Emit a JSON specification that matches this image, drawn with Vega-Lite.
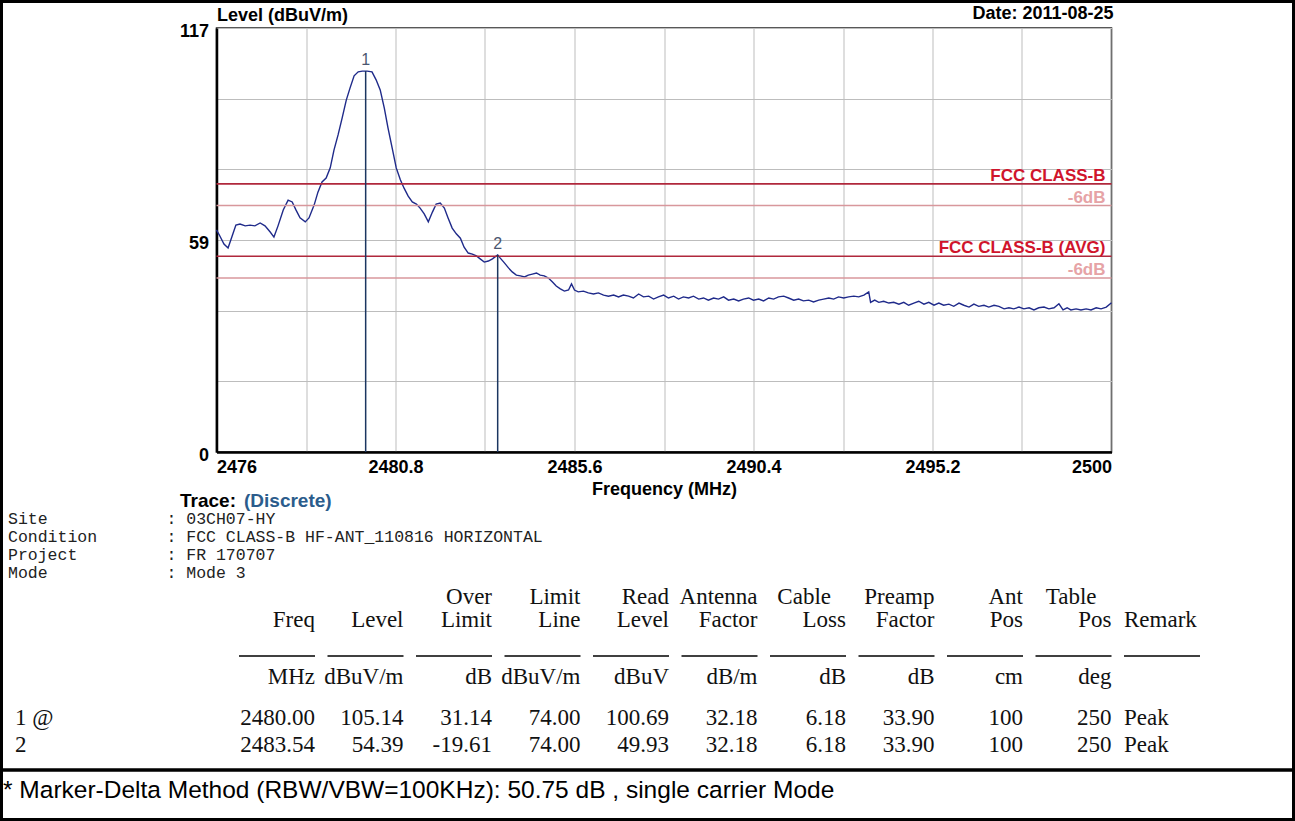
{
  "$schema": "https://vega.github.io/schema/vega-lite/v6.json",
  "width": 895,
  "height": 424,
  "autosize": "none",
  "padding": {"left": 216.5, "top": 28, "right": 183.5, "bottom": 369},
  "background": "white",
  "config": {"view": {"stroke": "#222", "strokeWidth": 1.5}},
  "datasets": {
    "cells": [
      {"col": "OverLimit", "line": "head1", "text": "Over"},
      {"col": "LimitLine", "line": "head1", "text": "Limit"},
      {"col": "ReadLevel", "line": "head1", "text": "Read"},
      {"col": "AntennaFactor", "line": "head1", "text": "Antenna"},
      {"col": "CableLoss", "line": "head1", "text": "Cable"},
      {"col": "PreampFactor", "line": "head1", "text": "Preamp"},
      {"col": "AntPos", "line": "head1", "text": "Ant"},
      {"col": "TablePos", "line": "head1", "text": "Table"},
      {"col": "Freq", "line": "head2", "text": "Freq"},
      {"col": "Level", "line": "head2", "text": "Level"},
      {"col": "OverLimit", "line": "head2", "text": "Limit"},
      {"col": "LimitLine", "line": "head2", "text": "Line"},
      {"col": "ReadLevel", "line": "head2", "text": "Level"},
      {"col": "AntennaFactor", "line": "head2", "text": "Factor"},
      {"col": "CableLoss", "line": "head2", "text": "Loss"},
      {"col": "PreampFactor", "line": "head2", "text": "Factor"},
      {"col": "AntPos", "line": "head2", "text": "Pos"},
      {"col": "TablePos", "line": "head2", "text": "Pos"},
      {"col": "Remark", "line": "head2", "text": "Remark"},
      {"col": "Freq", "line": "units", "text": "MHz"},
      {"col": "Level", "line": "units", "text": "dBuV/m"},
      {"col": "OverLimit", "line": "units", "text": "dB"},
      {"col": "LimitLine", "line": "units", "text": "dBuV/m"},
      {"col": "ReadLevel", "line": "units", "text": "dBuV"},
      {"col": "AntennaFactor", "line": "units", "text": "dB/m"},
      {"col": "CableLoss", "line": "units", "text": "dB"},
      {"col": "PreampFactor", "line": "units", "text": "dB"},
      {"col": "AntPos", "line": "units", "text": "cm"},
      {"col": "TablePos", "line": "units", "text": "deg"},
      {"col": "Freq", "line": "row1", "text": "2480.00"},
      {"col": "Level", "line": "row1", "text": "105.14"},
      {"col": "OverLimit", "line": "row1", "text": "31.14"},
      {"col": "LimitLine", "line": "row1", "text": "74.00"},
      {"col": "ReadLevel", "line": "row1", "text": "100.69"},
      {"col": "AntennaFactor", "line": "row1", "text": "32.18"},
      {"col": "CableLoss", "line": "row1", "text": "6.18"},
      {"col": "PreampFactor", "line": "row1", "text": "33.90"},
      {"col": "AntPos", "line": "row1", "text": "100"},
      {"col": "TablePos", "line": "row1", "text": "250"},
      {"col": "Remark", "line": "row1", "text": "Peak"},
      {"col": "Freq", "line": "row2", "text": "2483.54"},
      {"col": "Level", "line": "row2", "text": "54.39"},
      {"col": "OverLimit", "line": "row2", "text": "-19.61"},
      {"col": "LimitLine", "line": "row2", "text": "74.00"},
      {"col": "ReadLevel", "line": "row2", "text": "49.93"},
      {"col": "AntennaFactor", "line": "row2", "text": "32.18"},
      {"col": "CableLoss", "line": "row2", "text": "6.18"},
      {"col": "PreampFactor", "line": "row2", "text": "33.90"},
      {"col": "AntPos", "line": "row2", "text": "100"},
      {"col": "TablePos", "line": "row2", "text": "250"},
      {"col": "Remark", "line": "row2", "text": "Peak"}
    ]
  },
  "layer": [
    {
      "layer": [
        {
          "data": {"values": [
            {"freq":2476.00,"level":61.3},{"freq":2476.09,"level":59.6},{"freq":2476.20,"level":57.4},{"freq":2476.31,"level":56.3},{"freq":2476.42,"level":59.6},{"freq":2476.52,"level":62.6},{"freq":2476.63,"level":62.9},{"freq":2476.77,"level":62.4},{"freq":2476.90,"level":62.6},{"freq":2477.03,"level":62.4},{"freq":2477.17,"level":63.2},{"freq":2477.30,"level":62.4},{"freq":2477.44,"level":60.7},{"freq":2477.54,"level":59.3},{"freq":2477.65,"level":62.4},{"freq":2477.79,"level":66.8},{"freq":2477.92,"level":69.5},{"freq":2478.03,"level":69.0},{"freq":2478.13,"level":66.8},{"freq":2478.24,"level":64.6},{"freq":2478.38,"level":63.5},{"freq":2478.48,"level":64.6},{"freq":2478.62,"level":68.2},{"freq":2478.72,"level":71.7},{"freq":2478.83,"level":74.5},{"freq":2478.94,"level":75.6},{"freq":2479.05,"level":78.4},{"freq":2479.15,"level":83.3},{"freq":2479.26,"level":87.5},{"freq":2479.37,"level":92.2},{"freq":2479.48,"level":97.1},{"freq":2479.58,"level":100.4},{"freq":2479.69,"level":103.8},{"freq":2479.80,"level":104.9},{"freq":2479.91,"level":105.1},{"freq":2480.04,"level":105.1},{"freq":2480.17,"level":104.9},{"freq":2480.28,"level":102.7},{"freq":2480.39,"level":99.9},{"freq":2480.50,"level":94.9},{"freq":2480.60,"level":89.4},{"freq":2480.71,"level":83.9},{"freq":2480.82,"level":78.4},{"freq":2480.93,"level":75.1},{"freq":2481.03,"level":72.8},{"freq":2481.14,"level":70.6},{"freq":2481.25,"level":69.0},{"freq":2481.36,"level":68.4},{"freq":2481.46,"level":67.3},{"freq":2481.57,"level":65.7},{"freq":2481.68,"level":63.5},{"freq":2481.79,"level":66.2},{"freq":2481.89,"level":68.4},{"freq":2482.00,"level":68.7},{"freq":2482.11,"level":67.3},{"freq":2482.21,"level":64.6},{"freq":2482.32,"level":61.8},{"freq":2482.43,"level":60.2},{"freq":2482.54,"level":59.0},{"freq":2482.64,"level":56.5},{"freq":2482.75,"level":54.9},{"freq":2482.86,"level":54.6},{"freq":2482.97,"level":54.1},{"freq":2483.07,"level":53.3},{"freq":2483.18,"level":52.4},{"freq":2483.29,"level":52.7},{"freq":2483.40,"level":53.3},{"freq":2483.54,"level":54.4},{"freq":2483.61,"level":53.5},{"freq":2483.72,"level":52.2},{"freq":2483.83,"level":50.8},{"freq":2483.93,"level":49.7},{"freq":2484.04,"level":48.8},{"freq":2484.15,"level":48.6},{"freq":2484.26,"level":48.3},{"freq":2484.36,"level":48.8},{"freq":2484.47,"level":49.1},{"freq":2484.58,"level":49.4},{"freq":2484.68,"level":48.8},{"freq":2484.79,"level":48.6},{"freq":2484.90,"level":48.0},{"freq":2485.01,"level":46.9},{"freq":2485.11,"level":45.8},{"freq":2485.22,"level":45.0},{"freq":2485.33,"level":44.4},{"freq":2485.44,"level":44.7},{"freq":2485.52,"level":46.4},{"freq":2485.60,"level":44.7},{"freq":2485.70,"level":44.2},{"freq":2485.84,"level":44.4},{"freq":2485.97,"level":43.9},
            {"freq":2486.11,"level":43.6},{"freq":2486.24,"level":43.9},{"freq":2486.38,"level":43.3},{"freq":2486.51,"level":43.0},{"freq":2486.65,"level":43.3},{"freq":2486.78,"level":42.8},{"freq":2486.91,"level":43.3},{"freq":2487.05,"level":43.0},{"freq":2487.18,"level":42.5},{"freq":2487.32,"level":43.6},{"freq":2487.45,"level":42.8},{"freq":2487.59,"level":43.0},{"freq":2487.72,"level":42.2},{"freq":2487.85,"level":42.8},{"freq":2487.99,"level":43.3},{"freq":2488.12,"level":42.5},{"freq":2488.26,"level":43.0},{"freq":2488.39,"level":42.2},{"freq":2488.52,"level":42.8},{"freq":2488.66,"level":42.5},{"freq":2488.79,"level":43.0},{"freq":2488.93,"level":42.2},{"freq":2489.06,"level":42.5},{"freq":2489.19,"level":41.9},{"freq":2489.33,"level":42.5},{"freq":2489.46,"level":42.2},{"freq":2489.60,"level":42.8},{"freq":2489.73,"level":41.9},{"freq":2489.87,"level":42.2},{"freq":2490.00,"level":41.7},{"freq":2490.13,"level":42.2},{"freq":2490.27,"level":42.5},{"freq":2490.40,"level":41.9},{"freq":2490.54,"level":42.2},{"freq":2490.67,"level":41.7},{"freq":2490.81,"level":42.5},{"freq":2490.94,"level":42.2},{"freq":2491.07,"level":42.8},{"freq":2491.21,"level":43.0},{"freq":2491.34,"level":42.5},{"freq":2491.48,"level":41.9},{"freq":2491.61,"level":42.2},{"freq":2491.74,"level":41.7},{"freq":2491.88,"level":41.9},{"freq":2492.01,"level":41.4},{"freq":2492.15,"level":41.9},{"freq":2492.28,"level":42.2},{"freq":2492.42,"level":42.5},{"freq":2492.55,"level":42.2},{"freq":2492.68,"level":42.8},{"freq":2492.82,"level":42.5},{"freq":2492.95,"level":42.8},{"freq":2493.09,"level":43.0},{"freq":2493.22,"level":42.8},{"freq":2493.36,"level":43.3},{"freq":2493.49,"level":44.2},
            {"freq":2493.54,"level":41.3},{"freq":2493.65,"level":41.9},{"freq":2493.76,"level":41.3},{"freq":2493.89,"level":41.6},{"freq":2494.03,"level":41.1},{"freq":2494.16,"level":41.3},{"freq":2494.30,"level":40.8},{"freq":2494.43,"level":41.3},{"freq":2494.56,"level":40.5},{"freq":2494.70,"level":41.1},{"freq":2494.83,"level":41.6},{"freq":2494.97,"level":40.8},{"freq":2495.10,"level":41.3},{"freq":2495.24,"level":40.5},{"freq":2495.37,"level":41.1},{"freq":2495.50,"level":40.5},{"freq":2495.64,"level":40.8},{"freq":2495.77,"level":40.2},{"freq":2495.91,"level":41.1},{"freq":2496.04,"level":40.5},{"freq":2496.18,"level":40.0},{"freq":2496.31,"level":40.8},{"freq":2496.44,"level":40.2},{"freq":2496.58,"level":40.5},{"freq":2496.71,"level":40.0},{"freq":2496.85,"level":40.5},{"freq":2496.98,"level":40.2},{"freq":2497.12,"level":39.5},{"freq":2497.25,"level":39.8},{"freq":2497.38,"level":39.5},{"freq":2497.52,"level":40.0},{"freq":2497.65,"level":39.5},{"freq":2497.79,"level":39.8},{"freq":2497.92,"level":39.2},{"freq":2498.05,"level":39.8},{"freq":2498.19,"level":40.0},{"freq":2498.32,"level":39.5},{"freq":2498.46,"level":39.8},{"freq":2498.59,"level":40.9},{"freq":2498.70,"level":39.2},{"freq":2498.81,"level":39.8},{"freq":2498.91,"level":39.2},{"freq":2499.05,"level":39.5},{"freq":2499.18,"level":39.2},{"freq":2499.32,"level":39.5},{"freq":2499.45,"level":39.2},{"freq":2499.59,"level":39.8},{"freq":2499.72,"level":39.5},{"freq":2499.86,"level":40.0},{"freq":2500.00,"level":41.2}
          ]},
          "mark": {"type": "line", "color": "#1f2a8a", "strokeWidth": 1.4},
          "encoding": {
            "x": {"field": "freq", "type": "quantitative",
              "scale": {"domain": [2476, 2500], "nice": false, "zero": false},
              "axis": {
                "title": "Frequency (MHz)",
                "values": [2476, 2478.4, 2480.8, 2483.2, 2485.6, 2488, 2490.4, 2492.8, 2495.2, 2497.6, 2500],
                "labelExpr": "round((datum.value - 2476) / 2.4) % 2 == 0 ? format(datum.value, '~f') : ''",
                "grid": true, "gridColor": "#bdbdbd", "gridWidth": 1,
                "ticks": false, "domainColor": "#000", "domainWidth": 2.5,
                "labelFont": "Liberation Sans", "labelFontSize": 18, "labelFontWeight": "bold", "labelColor": "#000",
                "labelPadding": 6, "labelFlush": true, "labelOverlap": false, "labelBound": false,
                "titleFont": "Liberation Sans", "titleFontSize": 18, "titleFontWeight": "bold", "titleColor": "#000", "titlePadding": 4
              }
            },
            "y": {"field": "level", "type": "quantitative",
              "scale": {"domain": [0, 117], "nice": false},
              "axis": {
                "title": "Level (dBuV/m)", "titleAngle": 0, "titleAlign": "left", "titleBaseline": "alphabetic", "titleX": 0, "titleY": -8,
                "titleFont": "Liberation Sans", "titleFontSize": 18, "titleFontWeight": "bold", "titleColor": "#000",
                "values": [0, 9.75, 19.5, 29.25, 39, 48.75, 58.5, 68.25, 78, 87.75, 97.5, 107.25, 117],
                "labelExpr": "datum.value == 0 || datum.value == 58.5 || datum.value == 117 ? format(round(datum.value), 'd') : ''",
                "grid": true, "gridColor": "#bdbdbd", "gridWidth": 1,
                "ticks": false, "domainColor": "#000", "domainWidth": 2.5,
                "labelFont": "Liberation Sans", "labelFontSize": 18, "labelFontWeight": "bold", "labelColor": "#000",
                "labelPadding": 8, "labelOffset": 3, "labelFlush": false, "labelBaseline": "middle", "labelOverlap": false, "labelBound": false
              }
            }
          }
        },
        {
          "data": {"values": [
            {"limit": 74, "label": "FCC CLASS-B", "kind": "limit"},
            {"limit": 68, "label": "-6dB", "kind": "margin"},
            {"limit": 54, "label": "FCC CLASS-B (AVG)", "kind": "limit"},
            {"limit": 48, "label": "-6dB", "kind": "margin"}
          ]},
          "layer": [
            {
              "mark": {"type": "rule", "strokeWidth": 1.6},
              "encoding": {
                "y": {"field": "limit", "type": "quantitative"},
                "color": {"condition": {"test": "datum.kind === 'limit'", "value": "#b0283c"}, "value": "#d8979c"}
              }
            },
            {
              "mark": {"type": "text", "align": "right", "baseline": "alphabetic", "dx": -6, "dy": -3, "font": "Liberation Sans", "fontSize": 17, "fontWeight": "bold"},
              "encoding": {
                "x": {"datum": 2500},
                "y": {"field": "limit", "type": "quantitative"},
                "text": {"field": "label"},
                "color": {"condition": {"test": "datum.kind === 'limit'", "value": "#d0142c"}, "value": "#e6a3a6"}
              }
            }
          ]
        },
        {
          "data": {"values": [
            {"marker": "1", "freq": 2480.00, "level": 105.14},
            {"marker": "2", "freq": 2483.54, "level": 54.39}
          ]},
          "layer": [
            {
              "mark": {"type": "rule", "color": "#1b3660", "strokeWidth": 1.5},
              "encoding": {
                "x": {"field": "freq", "type": "quantitative"},
                "y": {"field": "level", "type": "quantitative"},
                "y2": {"datum": 0}
              }
            },
            {
              "mark": {"type": "text", "align": "center", "baseline": "alphabetic", "dy": -6, "font": "Liberation Sans", "fontSize": 16, "color": "#4a5670"},
              "encoding": {
                "x": {"field": "freq", "type": "quantitative"},
                "y": {"field": "level", "type": "quantitative"},
                "text": {"field": "marker"}
              }
            }
          ]
        },
        {
          "data": {"values": [{"label": "Date: 2011-08-25"}]},
          "mark": {"type": "text", "align": "right", "baseline": "alphabetic", "dx": 2, "dy": -9, "font": "Liberation Sans", "fontSize": 18, "fontWeight": "bold", "color": "#000"},
          "encoding": {
            "x": {"datum": 2500},
            "y": {"datum": 117},
            "text": {"field": "label"}
          }
        }
      ]
    },
    {
      "layer": [
        {
          "data": {"values": [{"anchor": "trace", "line": "trace", "text": "Trace:"}]},
          "mark": {"type": "text", "align": "left", "baseline": "middle", "font": "Liberation Sans", "fontSize": 19, "fontWeight": "bold", "color": "#000"},
          "encoding": {
            "x": {"field": "anchor", "type": "nominal", "bandPosition": 0, "axis": null,
              "scale": {"type": "band", "domain": ["report", "trace"], "range": [-208.5, 135.5], "paddingInner": 0, "paddingOuter": 0}},
            "y": {"field": "line", "type": "nominal", "axis": null,
              "scale": {"type": "point", "domain": ["trace", "site", "condition", "project", "mode"], "range": [473, 545], "padding": 0}},
            "text": {"field": "text"}
          }
        },
        {
          "data": {"values": [{"anchor": "trace", "line": "trace", "text": "(Discrete)"}]},
          "mark": {"type": "text", "align": "left", "baseline": "middle", "dx": 64, "font": "Liberation Sans", "fontSize": 19, "fontWeight": "bold", "color": "#2b5c8c"},
          "encoding": {
            "x": {"field": "anchor", "type": "nominal", "bandPosition": 0, "axis": null,
              "scale": {"type": "band", "domain": ["report", "trace"], "range": [-208.5, 135.5], "paddingInner": 0, "paddingOuter": 0}},
            "y": {"field": "line", "type": "nominal", "axis": null,
              "scale": {"type": "point", "domain": ["trace", "site", "condition", "project", "mode"], "range": [473, 545], "padding": 0}},
            "text": {"field": "text"}
          }
        },
        {
          "data": {"values": [
            {"anchor": "report", "line": "site", "text": "Site\u00a0\u00a0\u00a0\u00a0\u00a0\u00a0\u00a0\u00a0\u00a0\u00a0\u00a0\u00a0:\u00a003CH07-HY"},
            {"anchor": "report", "line": "condition", "text": "Condition\u00a0\u00a0\u00a0\u00a0\u00a0\u00a0\u00a0:\u00a0FCC CLASS-B HF-ANT_110816 HORIZONTAL"},
            {"anchor": "report", "line": "project", "text": "Project\u00a0\u00a0\u00a0\u00a0\u00a0\u00a0\u00a0\u00a0\u00a0:\u00a0FR 170707"},
            {"anchor": "report", "line": "mode", "text": "Mode\u00a0\u00a0\u00a0\u00a0\u00a0\u00a0\u00a0\u00a0\u00a0\u00a0\u00a0\u00a0:\u00a0Mode 3"}
          ]},
          "mark": {"type": "text", "align": "left", "baseline": "middle", "font": "Liberation Mono", "fontSize": 16.5, "color": "#222"},
          "encoding": {
            "x": {"field": "anchor", "type": "nominal", "bandPosition": 0, "axis": null,
              "scale": {"type": "band", "domain": ["report", "trace"], "range": [-208.5, 135.5], "paddingInner": 0, "paddingOuter": 0}},
            "y": {"field": "line", "type": "nominal", "axis": null,
              "scale": {"type": "point", "domain": ["trace", "site", "condition", "project", "mode"], "range": [473, 545], "padding": 0}},
            "text": {"field": "text"}
          }
        },
        {
          "data": {"name": "cells"},
          "transform": [{"filter": "(datum.line === 'head1' || datum.line === 'head2') && datum.col !== 'Remark' && !(datum.line === 'head1' && (datum.col === 'CableLoss' || datum.col === 'TablePos'))"}],
          "mark": {"type": "text", "align": "right", "baseline": "middle", "font": "Liberation Serif", "fontSize": 23, "color": "#111"},
          "encoding": {
            "x": {"field": "col", "type": "nominal", "bandPosition": 1, "axis": null,
              "scale": {"type": "band", "domain": ["Freq", "Level", "OverLimit", "LimitLine", "ReadLevel", "AntennaFactor", "CableLoss", "PreampFactor", "AntPos", "TablePos", "Remark"], "range": [22.5, 983.5], "paddingInner": 0.1412, "paddingOuter": 0}},
            "y": {"field": "line", "type": "nominal", "axis": null,
              "scale": {"type": "point", "domain": ["head1", "head2"], "range": [569, 592], "padding": 0}},
            "text": {"field": "text"}
          }
        },
        {
          "data": {"name": "cells"},
          "transform": [{"filter": "datum.line === 'head1' && (datum.col === 'CableLoss' || datum.col === 'TablePos')"}],
          "mark": {"type": "text", "align": "right", "baseline": "middle", "dx": -15, "font": "Liberation Serif", "fontSize": 23, "color": "#111"},
          "encoding": {
            "x": {"field": "col", "type": "nominal", "bandPosition": 1, "axis": null,
              "scale": {"type": "band", "domain": ["Freq", "Level", "OverLimit", "LimitLine", "ReadLevel", "AntennaFactor", "CableLoss", "PreampFactor", "AntPos", "TablePos", "Remark"], "range": [22.5, 983.5], "paddingInner": 0.1412, "paddingOuter": 0}},
            "y": {"field": "line", "type": "nominal", "axis": null,
              "scale": {"type": "point", "domain": ["head1", "head2"], "range": [569, 592], "padding": 0}},
            "text": {"field": "text"}
          }
        },
        {
          "data": {"name": "cells"},
          "transform": [{"filter": "datum.line === 'head2' && datum.col === 'Remark'"}],
          "mark": {"type": "text", "align": "left", "baseline": "middle", "font": "Liberation Serif", "fontSize": 23, "color": "#111"},
          "encoding": {
            "x": {"field": "col", "type": "nominal", "bandPosition": 0, "axis": null,
              "scale": {"type": "band", "domain": ["Freq", "Level", "OverLimit", "LimitLine", "ReadLevel", "AntennaFactor", "CableLoss", "PreampFactor", "AntPos", "TablePos", "Remark"], "range": [22.5, 983.5], "paddingInner": 0.1412, "paddingOuter": 0}},
            "y": {"field": "line", "type": "nominal", "axis": null,
              "scale": {"type": "point", "domain": ["head1", "head2"], "range": [569, 592], "padding": 0}},
            "text": {"field": "text"}
          }
        },
        {
          "data": {"name": "cells"},
          "transform": [{"filter": "datum.line === 'units'"}],
          "mark": {"type": "text", "align": "right", "baseline": "middle", "font": "Liberation Serif", "fontSize": 23, "color": "#111"},
          "encoding": {
            "x": {"field": "col", "type": "nominal", "bandPosition": 1, "axis": null,
              "scale": {"type": "band", "domain": ["Freq", "Level", "OverLimit", "LimitLine", "ReadLevel", "AntennaFactor", "CableLoss", "PreampFactor", "AntPos", "TablePos", "Remark"], "range": [22.5, 983.5], "paddingInner": 0.1412, "paddingOuter": 0}},
            "y": {"field": "line", "type": "nominal", "axis": null,
              "scale": {"type": "point", "domain": ["rule", "units"], "range": [628, 649], "padding": 0}},
            "text": {"field": "text"}
          }
        },
        {
          "data": {"values": [
            {"col": "Freq", "line": "rule"}, {"col": "Level", "line": "rule"}, {"col": "OverLimit", "line": "rule"},
            {"col": "LimitLine", "line": "rule"}, {"col": "ReadLevel", "line": "rule"}, {"col": "AntennaFactor", "line": "rule"},
            {"col": "CableLoss", "line": "rule"}, {"col": "PreampFactor", "line": "rule"}, {"col": "AntPos", "line": "rule"},
            {"col": "TablePos", "line": "rule"}, {"col": "Remark", "line": "rule"}
          ]},
          "mark": {"type": "rule", "color": "#000", "strokeWidth": 1.5},
          "encoding": {
            "x": {"field": "col", "type": "nominal", "bandPosition": 0, "axis": null,
              "scale": {"type": "band", "domain": ["Freq", "Level", "OverLimit", "LimitLine", "ReadLevel", "AntennaFactor", "CableLoss", "PreampFactor", "AntPos", "TablePos", "Remark"], "range": [22.5, 983.5], "paddingInner": 0.1412, "paddingOuter": 0}},
            "x2": {"field": "col", "bandPosition": 1},
            "y": {"field": "line", "type": "nominal", "axis": null,
              "scale": {"type": "point", "domain": ["rule", "units"], "range": [628, 649], "padding": 0}}
          }
        },
        {
          "data": {"name": "cells"},
          "transform": [{"filter": "(datum.line === 'row1' || datum.line === 'row2') && datum.col !== 'Remark'"}],
          "mark": {"type": "text", "align": "right", "baseline": "middle", "font": "Liberation Serif", "fontSize": 23, "color": "#111"},
          "encoding": {
            "x": {"field": "col", "type": "nominal", "bandPosition": 1, "axis": null,
              "scale": {"type": "band", "domain": ["Freq", "Level", "OverLimit", "LimitLine", "ReadLevel", "AntennaFactor", "CableLoss", "PreampFactor", "AntPos", "TablePos", "Remark"], "range": [22.5, 983.5], "paddingInner": 0.1412, "paddingOuter": 0}},
            "y": {"field": "line", "type": "nominal", "axis": null,
              "scale": {"type": "point", "domain": ["row1", "row2"], "range": [690, 717], "padding": 0}},
            "text": {"field": "text"}
          }
        },
        {
          "data": {"name": "cells"},
          "transform": [{"filter": "(datum.line === 'row1' || datum.line === 'row2') && datum.col === 'Remark'"}],
          "mark": {"type": "text", "align": "left", "baseline": "middle", "font": "Liberation Serif", "fontSize": 23, "color": "#111"},
          "encoding": {
            "x": {"field": "col", "type": "nominal", "bandPosition": 0, "axis": null,
              "scale": {"type": "band", "domain": ["Freq", "Level", "OverLimit", "LimitLine", "ReadLevel", "AntennaFactor", "CableLoss", "PreampFactor", "AntPos", "TablePos", "Remark"], "range": [22.5, 983.5], "paddingInner": 0.1412, "paddingOuter": 0}},
            "y": {"field": "line", "type": "nominal", "axis": null,
              "scale": {"type": "point", "domain": ["row1", "row2"], "range": [690, 717], "padding": 0}},
            "text": {"field": "text"}
          }
        },
        {
          "data": {"values": [
            {"anchor": "report", "line": "row1", "text": "1 @"},
            {"anchor": "report", "line": "row2", "text": "2"}
          ]},
          "mark": {"type": "text", "align": "left", "baseline": "middle", "dx": 7, "font": "Liberation Serif", "fontSize": 23, "color": "#111"},
          "encoding": {
            "x": {"field": "anchor", "type": "nominal", "bandPosition": 0, "axis": null,
              "scale": {"type": "band", "domain": ["report", "trace"], "range": [-208.5, 135.5], "paddingInner": 0, "paddingOuter": 0}},
            "y": {"field": "line", "type": "nominal", "axis": null,
              "scale": {"type": "point", "domain": ["row1", "row2"], "range": [690, 717], "padding": 0}},
            "text": {"field": "text"}
          }
        },
        {
          "data": {"values": [{"box": "report"}]},
          "mark": {"type": "rect", "filled": false, "color": "#000", "strokeWidth": 3},
          "encoding": {
            "x": {"datum": 0, "type": "quantitative", "axis": null, "scale": {"domain": [0, 1], "range": [-215, 1077]}},
            "x2": {"datum": 1},
            "y": {"datum": 0, "type": "quantitative", "axis": null, "scale": {"domain": [0, 1], "range": [-26.5, 742]}},
            "y2": {"datum": 1}
          }
        },
        {
          "data": {"values": [{"box": "footer"}]},
          "mark": {"type": "rect", "filled": false, "color": "#000", "strokeWidth": 3},
          "encoding": {
            "x": {"datum": 0, "type": "quantitative", "axis": null, "scale": {"domain": [0, 1], "range": [-215, 1077]}},
            "x2": {"datum": 1},
            "y": {"datum": 0, "type": "quantitative", "axis": null, "scale": {"domain": [0, 1], "range": [742, 791.5]}},
            "y2": {"datum": 1}
          }
        },
        {
          "data": {"values": [{"note": "* Marker-Delta Method (RBW/VBW=100KHz): 50.75 dB , single carrier Mode"}]},
          "mark": {"type": "text", "align": "left", "baseline": "middle", "dx": 1.5, "dy": -4, "font": "Liberation Sans", "fontSize": 24.5, "color": "#000"},
          "encoding": {
            "x": {"datum": 0, "type": "quantitative", "axis": null, "scale": {"domain": [0, 1], "range": [-215, 1077]}},
            "y": {"datum": 0.5, "type": "quantitative", "axis": null, "scale": {"domain": [0, 1], "range": [742, 791.5]}},
            "text": {"field": "note"}
          }
        }
      ],
      "resolve": {"scale": {"x": "independent", "y": "independent"}}
    }
  ],
  "resolve": {"scale": {"x": "independent", "y": "independent"}}
}
